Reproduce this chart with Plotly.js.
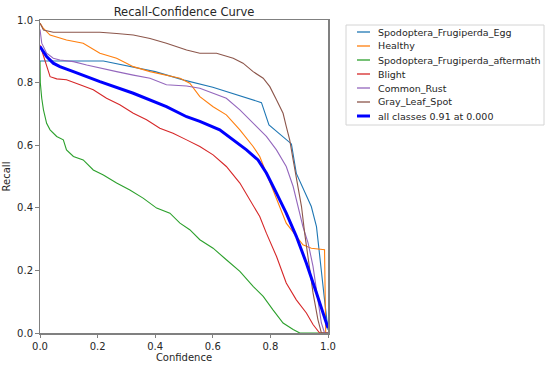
<!DOCTYPE html>
<html><head><meta charset="utf-8">
<script src="https://cdn.plot.ly/plotly-3.0.1.min.js"></script>
<style>body{margin:0;background:#fff}#chart{width:550px;height:367px}</style>
</head><body><div id="chart"></div>
<script>
const eggX = [0, 0.22, 0.4, 0.5, 0.6, 0.769, 0.795, 0.873, 0.89, 0.942, 0.96, 0.971, 0.988, 1.0];
const eggY = [0.869, 0.869, 0.835, 0.808, 0.785, 0.736, 0.665, 0.604, 0.51, 0.404, 0.34, 0.255, 0.106, 0.01];

const healthyX = [0, 0.012, 0.035, 0.092, 0.150, 0.208, 0.266, 0.324, 0.382, 0.439, 0.486, 0.520, 0.555, 0.601, 0.647, 0.694, 0.740, 0.763, 0.786, 0.821, 0.855, 0.890, 0.913, 0.942, 0.988, 0.992];
const healthyY = [0.99, 0.973, 0.952, 0.936, 0.926, 0.894, 0.878, 0.851, 0.835, 0.824, 0.814, 0.798, 0.755, 0.723, 0.697, 0.649, 0.596, 0.564, 0.511, 0.426, 0.351, 0.309, 0.282, 0.271, 0.266, 0.0];

const afterX = [0, 0.001, 0.006, 0.012, 0.023, 0.035, 0.058, 0.081, 0.092, 0.116, 0.150, 0.185, 0.220, 0.266, 0.312, 0.358, 0.405, 0.451, 0.486, 0.520, 0.555, 0.601, 0.647, 0.694, 0.740, 0.775, 0.809, 0.844, 0.879, 0.902, 1.0];
const afterY = [0.869, 0.8, 0.75, 0.713, 0.670, 0.649, 0.628, 0.617, 0.585, 0.564, 0.553, 0.521, 0.505, 0.479, 0.457, 0.431, 0.399, 0.383, 0.351, 0.330, 0.298, 0.271, 0.234, 0.197, 0.149, 0.117, 0.074, 0.032, 0.011, 0.0, 0.0];

const blightX = [0, 0.012, 0.023, 0.035, 0.058, 0.092, 0.139, 0.185, 0.231, 0.277, 0.324, 0.370, 0.416, 0.462, 0.509, 0.555, 0.601, 0.647, 0.694, 0.728, 0.763, 0.786, 0.821, 0.855, 0.890, 0.925, 0.948, 0.971, 1.0];
const blightY = [0.92, 0.883, 0.851, 0.819, 0.812, 0.809, 0.793, 0.777, 0.750, 0.729, 0.702, 0.681, 0.654, 0.638, 0.617, 0.596, 0.569, 0.532, 0.479, 0.426, 0.372, 0.319, 0.245, 0.160, 0.106, 0.064, 0.027, 0.0, 0.0];

const rustX = [0, 0.006, 0.023, 0.046, 0.069, 0.116, 0.162, 0.208, 0.266, 0.324, 0.382, 0.439, 0.509, 0.555, 0.601, 0.647, 0.694, 0.740, 0.786, 0.821, 0.855, 0.879, 0.896, 0.913, 0.931, 0.948, 0.965, 0.977, 0.988, 1.0];
const rustY = [0.97, 0.926, 0.894, 0.878, 0.872, 0.867, 0.856, 0.846, 0.835, 0.824, 0.814, 0.793, 0.789, 0.782, 0.766, 0.750, 0.713, 0.670, 0.628, 0.585, 0.532, 0.468, 0.404, 0.340, 0.287, 0.213, 0.106, 0.032, 0.0, 0.0];

const grayX = [0, 0.012, 0.046, 0.208, 0.266, 0.324, 0.382, 0.439, 0.509, 0.555, 0.613, 0.671, 0.705, 0.740, 0.775, 0.798, 0.821, 0.844, 0.855, 0.867, 0.879, 0.896, 0.908, 0.919, 0.931, 0.948, 0.965, 0.977, 1.0];
const grayY = [0.99, 0.968, 0.961, 0.961, 0.957, 0.952, 0.941, 0.926, 0.904, 0.894, 0.894, 0.878, 0.862, 0.835, 0.814, 0.787, 0.745, 0.702, 0.660, 0.617, 0.553, 0.468, 0.404, 0.319, 0.234, 0.128, 0.043, 0.0, 0.0];

const allX = [0, 0.023, 0.046, 0.069, 0.116, 0.208, 0.324, 0.439, 0.509, 0.555, 0.624, 0.671, 0.717, 0.757, 0.786, 0.821, 0.855, 0.890, 0.925, 0.960, 0.983, 1.0];
const allY = [0.915, 0.883, 0.862, 0.851, 0.835, 0.803, 0.766, 0.723, 0.691, 0.676, 0.649, 0.617, 0.585, 0.553, 0.511, 0.447, 0.383, 0.309, 0.223, 0.128, 0.064, 0.016];

const names = ['Spodoptera_Frugiperda_Egg', 'Healthy', 'Spodoptera_Frugiperda_aftermath', 'Blight', 'Common_Rust', 'Gray_Leaf_Spot', 'all classes 0.91 at 0.000'];
const colors = ['#1f77b4', '#ff7f0e', '#2ca02c', '#d62728', '#9467bd', '#8c564b', '#0000ff'];
const xs = [eggX, healthyX, afterX, blightX, rustX, grayX, allX];
const ys = [eggY, healthyY, afterY, blightY, rustY, grayY, allY];

const traces = xs.map((x, i) => ({
  x: x, y: ys[i], name: names[i], type: 'scatter', mode: 'lines',
  line: {color: colors[i], width: i === 6 ? 3 : 1.1, shape: 'linear'}
}));

// Legend (built from names/colors) placed outside the plot, matplotlib style
const plotL = 40, plotT = 20, plotW = 288, plotH = 313;
const px2x = p => (p - plotL) / plotW;
const py2y = p => (plotT + plotH - p) / plotH;
const shapes = [{
  type: 'rect', xref: 'paper', yref: 'paper',
  x0: px2x(346), x1: px2x(544), y0: py2y(125), y1: py2y(25),
  line: {color: '#d4d4d4', width: 1}, fillcolor: 'rgba(255,255,255,0.8)'
}];
const annotations = [];
names.forEach((n, i) => {
  const py = 32 + 14 * i;
  shapes.push({type: 'line', xref: 'paper', yref: 'paper', x0: px2x(357), x1: px2x(370), y0: py2y(py), y1: py2y(py),
    line: {color: colors[i], width: i === 6 ? 3 : 1.3}});
  annotations.push({xref: 'paper', yref: 'paper', x: px2x(376), y: py2y(py), xanchor: 'left', yanchor: 'middle',
    text: n, showarrow: false, font: {size: 9.5, color: '#262626', family: 'DejaVu Sans'}});
});

const axisCommon = {
  range: [0, 1], showgrid: false, zeroline: false, showline: true, mirror: true,
  linecolor: '#808080', linewidth: 1.5, ticks: 'outside', ticklen: 3.5, tickcolor: '#808080',
  tickfont: {size: 10, color: '#262626', family: 'DejaVu Sans'}, tickformat: '.1f', dtick: 0.2
};

const layout = {
  width: 550, height: 367,
  margin: {l: 40, r: 222, t: 20, b: 34},
  paper_bgcolor: '#fff', plot_bgcolor: '#fff',
  font: {family: 'DejaVu Sans', color: '#262626'},
  title: {text: 'Recall-Confidence Curve', font: {size: 11.5, color: '#262626'}, xref: 'paper', x: 0.5, xanchor: 'center', yref: 'container', y: 0.968, yanchor: 'middle'},
  xaxis: Object.assign({}, axisCommon, {title: {text: 'Confidence', font: {size: 10}, standoff: 3}}),
  yaxis: Object.assign({}, axisCommon, {title: {text: 'Recall', font: {size: 10}, standoff: 4}}),
  showlegend: false,
  shapes: shapes,
  annotations: annotations
};

Plotly.newPlot('chart', traces, layout, {displayModeBar: false, staticPlot: true});
</script></body></html>
